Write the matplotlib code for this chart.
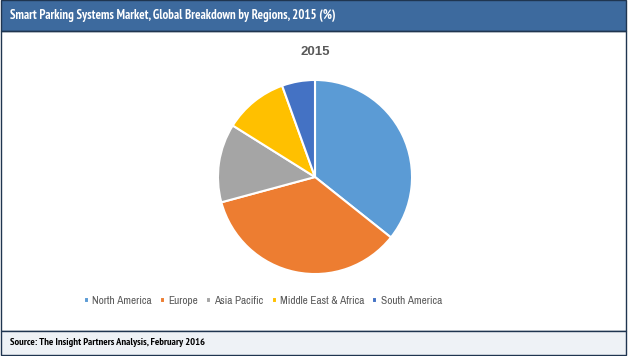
import matplotlib.pyplot as plt
from matplotlib.patches import Rectangle

regions = ['North America', 'Europe', 'Asia Pacific', 'Middle East & Africa', 'South America']
shares = [35.7, 35.1, 13.1, 10.6, 5.5]
colors = ['#5B9BD5', '#ED7D31', '#A5A5A5', '#FFC000', '#4472C4']

title = 'Smart Parking Systems Market, Global Breakdown by Regions, 2015 (%)'
chart_title = '2015'
source = 'Source: The Insight Partners Analysis, February 2016'

narrow = ['Archivo Narrow', 'Liberation Sans']
narrow_bold = ['PT Sans Narrow', 'Roboto Condensed', 'Liberation Sans']

W, H = 628, 356
fig = plt.figure(figsize=(W / 100, H / 100), dpi=100)
fig.patch.set_facecolor('white')


def box(top, bottom, face):
    # rectangle in pixel rows (from top of image)
    fig.add_artist(Rectangle((1 / W, 1 - bottom / H), 625 / W, (bottom - top) / H,
                             transform=fig.transFigure, facecolor=face,
                             edgecolor='#1F3550', linewidth=1))


box(0.5, 31, '#3D6A9E')
box(31, 331, 'none')
box(331, 354.5, '#EEF2F6')

fig.text(10 / W, 1 - 16 / H, title, color='white', fontsize=9.2, fontweight='bold',
         family=narrow_bold, va='center')
fig.text(10 / W, 1 - 342.5 / H, source, color='black', fontsize=7.5, fontweight='bold',
         family=narrow_bold, va='center')

# pie
cx, cy, r = 315, 177, 98
ax = fig.add_axes([(cx - r) / W, 1 - (cy + r) / H, 2 * r / W, 2 * r / H])
wedges, _ = ax.pie(shares, colors=colors, startangle=90, counterclock=False,
                   wedgeprops=dict(edgecolor='white', linewidth=1.5))
ax.set_xlim(-1.01, 1.01)
ax.set_ylim(-1.01, 1.01)
ax.set_aspect('equal')

fig.text(cx / W, 1 - 52 / H, chart_title, color='#595959', fontsize=9.5, fontweight='bold',
         family='Liberation Sans', ha='center', va='center')

leg = fig.legend(wedges, regions, loc='center', bbox_to_anchor=(263 / W, 1 - 301 / H), ncol=5,
                 frameon=False, handlelength=0.45, handleheight=0.45, handletextpad=0.3,
                 columnspacing=0.7, prop={'family': narrow, 'size': 8.1})
for t in leg.get_texts():
    t.set_color('#595959')

fig.savefig('out.png', dpi=100)
